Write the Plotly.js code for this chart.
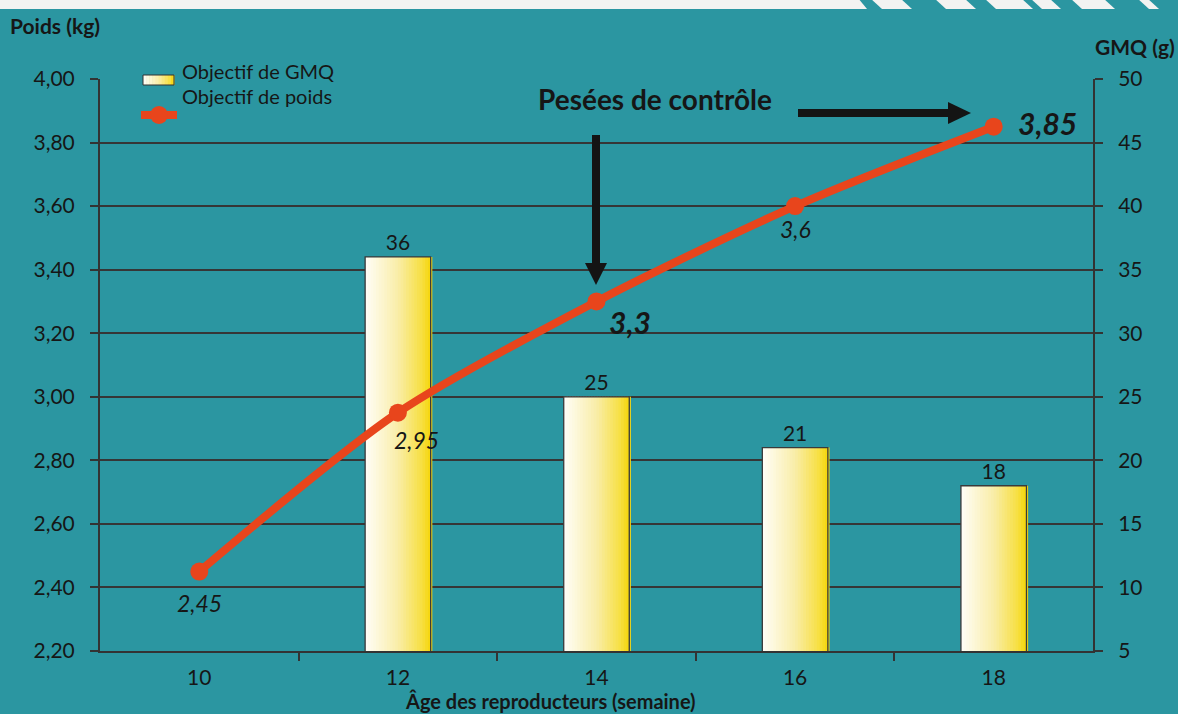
<!DOCTYPE html>
<html>
<head>
<meta charset="utf-8">
<script src="https://cdn.plot.ly/plotly-3.0.1.min.js"></script>
<style>
  html, body { margin: 0; padding: 0; background: #2b96a1; }
  #chart { width: 1178px; height: 714px; }
</style>
</head>
<body>
<div id="chart"></div>
<script>
// ---- Data ----
const weeks = [10, 12, 14, 16, 18];
const poids = [2.45, 2.95, 3.3, 3.6, 3.85];
const poidsLabels = ["2,45", "2,95", "3,3", "3,6", "3,85"];
const gmqWeeks = [12, 14, 16, 18];
const gmq = [36, 25, 21, 18];
const xTickVals = [10, 12, 14, 16, 18];
const xTickText = ["10", "12", "14", "16", "18"];
const kgTickVals = [2.2, 2.4, 2.6, 2.8, 3.0, 3.2, 3.4, 3.6, 3.8, 4.0];
const kgTickText = ["2,20", "2,40", "2,60", "2,80", "3,00", "3,20", "3,40", "3,60", "3,80", "4,00"];
const gTickVals = [5, 10, 15, 20, 25, 30, 35, 40, 45, 50];
const legendNames = ["Objectif de GMQ", "Objectif de poids"];

// ---- Style ----
const TEAL = "#2b96a1";
const ORANGE = "#e8451c";
const DARK = "#161616";
const GRID = "#363636";
const FONT = "Lato, 'Open Sans', sans-serif";
const M = {l: 100, r: 85, t: 79, b: 63};
const PW = 1178 - M.l - M.r, PH = 714 - M.t - M.b;
const px = x => (x - M.l) / PW;
const py = y => (714 - M.b - y) / PH;

function grad(t) {
  const stops = [[0, [255, 254, 248]], [0.5, [249, 237, 168]], [0.85, [247, 224, 70]], [1, [246, 214, 10]]];
  for (let i = 0; i < stops.length - 1; i++) {
    const [t0, c0] = stops[i], [t1, c1] = stops[i + 1];
    if (t <= t1) {
      const f = (t - t0) / (t1 - t0);
      const c = c0.map((v, k) => Math.round(v + (c1[k] - v) * f));
      return `rgb(${c[0]},${c[1]},${c[2]})`;
    }
  }
  return "rgb(246,214,10)";
}

const traces = [];
const BW = 0.66, NS = 24, sw = BW / NS;
for (let i = 0; i < NS; i++) {
  traces.push({
    type: "bar", x: gmqWeeks, y: gmq, yaxis: "y",
    width: sw * 1.6, offset: -BW / 2 + i * sw,
    marker: {color: grad((i + 0.5) / NS), line: {width: 0}},
    showlegend: false, hoverinfo: "skip"
  });
}
traces.push({
  type: "bar", x: gmqWeeks, y: gmq, yaxis: "y",
  width: BW, offset: -BW / 2,
  marker: {color: "rgba(0,0,0,0)", line: {color: "#3a3a3a", width: 1.3}},
  text: gmq.map(String), textposition: "outside", cliponaxis: false,
  textfont: {family: FONT, size: 21, color: DARK},
  name: legendNames[0], showlegend: false
});
traces.push({
  type: "scatter", mode: "lines+markers", x: weeks, y: poids, yaxis: "y2",
  line: {color: ORANGE, width: 8, shape: "spline", smoothing: 0.8},
  marker: {color: ORANGE, size: 18},
  name: legendNames[1], showlegend: false, cliponaxis: false
});

// ---- Shapes ----
const shapes = [];
const yTop = py(-2), yBot = py(9);
shapes.push({type: "path", xref: "paper", yref: "paper",
  path: `M ${px(-5)} ${yTop} L ${px(858)} ${yTop} L ${px(867)} ${yBot} L ${px(-5)} ${yBot} Z`,
  fillcolor: "#f3f3f1", line: {width: 0}, layer: "above"});
[[873, 903], [937, 967], [987, 1024], [1033, 1052], [1073, 1106], [1140, 1150]].forEach(([a, b]) => {
  shapes.push({type: "path", xref: "paper", yref: "paper",
    path: `M ${px(a - 3)} ${yTop} L ${px(b - 3)} ${yTop} L ${px(b + 9)} ${yBot} L ${px(a + 9)} ${yBot} Z`,
    fillcolor: "#f3f3f1", line: {width: 0}, layer: "above"});
});
const LS = 10;
for (let i = 0; i < LS; i++) {
  const x0 = 143 + i * 31 / LS, x1 = 143 + (i + 1) * 31 / LS + 0.6;
  shapes.push({type: "rect", xref: "paper", yref: "paper", x0: px(x0), x1: px(x1), y0: py(75), y1: py(85),
    fillcolor: grad((i + 0.5) / LS), line: {width: 0}, layer: "above"});
}
shapes.push({type: "rect", xref: "paper", yref: "paper", x0: px(143), x1: px(174), y0: py(75), y1: py(85),
  fillcolor: "rgba(0,0,0,0)", line: {color: "#333", width: 1}, layer: "above"});
shapes.push({type: "line", xref: "paper", yref: "paper", x0: px(141), x1: px(177), y0: py(115), y1: py(115),
  line: {color: ORANGE, width: 8}, layer: "above"});
shapes.push({type: "circle", xref: "paper", yref: "paper", x0: px(150), x1: px(168), y0: py(106), y1: py(124),
  fillcolor: ORANGE, line: {width: 0}, layer: "above"});
shapes.push({type: "line", xref: "paper", yref: "paper", x0: px(596), x1: px(596), y0: py(135), y1: py(266),
  line: {color: "#141414", width: 8}, layer: "above"});
shapes.push({type: "path", xref: "paper", yref: "paper",
  path: `M ${px(585)} ${py(263)} L ${px(607)} ${py(263)} L ${px(596)} ${py(285)} Z`,
  fillcolor: "#141414", line: {width: 0}, layer: "above"});
shapes.push({type: "line", xref: "paper", yref: "paper", x0: px(798), x1: px(951), y0: py(113), y1: py(113),
  line: {color: "#141414", width: 8}, layer: "above"});
shapes.push({type: "path", xref: "paper", yref: "paper",
  path: `M ${px(948)} ${py(102)} L ${px(948)} ${py(124)} L ${px(971)} ${py(113)} Z`,
  fillcolor: "#141414", line: {width: 0}, layer: "above"});

// ---- Annotations ----
const annotations = [];
const lblShift = [[0, -31, 23, false], [19, -27, 23, false], [33, -21, 30, true], [0, -23, 23, false], [54, 4, 30, true]];
weeks.forEach((w, i) => {
  const [xs, ys, sz, bold] = lblShift[i];
  annotations.push({x: w, y: poids[i], xref: "x", yref: "y2", showarrow: false,
    text: bold ? `<b><i>${poidsLabels[i]}</i></b>` : `<i>${poidsLabels[i]}</i>`,
    xshift: xs, yshift: ys, font: {family: FONT, size: sz, color: DARK}});
});
annotations.push({x: px(8), y: py(25), xref: "paper", yref: "paper", xanchor: "left", yanchor: "middle",
  text: "<b>Poids (kg)</b>", showarrow: false, font: {family: FONT, size: 21, color: DARK}});
annotations.push({x: px(1177), y: py(47), xref: "paper", yref: "paper", xanchor: "right", yanchor: "middle",
  text: "<b>GMQ (g)</b>", showarrow: false, font: {family: FONT, size: 21, color: DARK}});
annotations.push({x: px(550), y: py(714), xref: "paper", yref: "paper", xanchor: "center", yanchor: "bottom",
  text: "<b>Âge des reproducteurs (semaine)</b>", showarrow: false, borderpad: 0,
  font: {family: FONT, size: 20, color: DARK}});
annotations.push({x: px(655), y: py(99), xref: "paper", yref: "paper", xanchor: "center", yanchor: "middle",
  text: "<b>Pesées de contrôle</b>", showarrow: false, font: {family: FONT, size: 28, color: DARK}});
annotations.push({x: px(180), y: py(71), xref: "paper", yref: "paper", xanchor: "left", yanchor: "middle",
  text: legendNames[0], showarrow: false, font: {family: FONT, size: 20, color: DARK}});
annotations.push({x: px(180), y: py(96), xref: "paper", yref: "paper", xanchor: "left", yanchor: "middle",
  text: legendNames[1], showarrow: false, font: {family: FONT, size: 20, color: DARK}});

const layout = {
  width: 1178, height: 714,
  margin: M,
  paper_bgcolor: TEAL, plot_bgcolor: TEAL,
  font: {family: FONT, color: DARK},
  barmode: "overlay", showlegend: false,
  xaxis: {
    range: [9, 19], tickvals: xTickVals, ticktext: xTickText, ticks: "",
    tickfont: {size: 21, color: DARK}, ticklabelstandoff: 7,
    showgrid: false, zeroline: false, showline: true, linecolor: "#333", linewidth: 2,
    minor: {tickvals: [11, 13, 15, 17], ticks: "outside", ticklen: 8, tickcolor: "#333", tickwidth: 2, showgrid: false},
    fixedrange: true
  },
  yaxis: {
    range: [5, 50], side: "right", tickvals: gTickVals,
    ticks: "outside", ticklen: 8, tickcolor: "#333", tickwidth: 2, ticklabelstandoff: 11,
    tickfont: {size: 21, color: DARK},
    showgrid: true, gridcolor: GRID, gridwidth: 2, zeroline: false,
    showline: true, linecolor: "#333", linewidth: 2, fixedrange: true
  },
  yaxis2: {
    range: [2.2, 4.0], side: "left", overlaying: "y", tickvals: kgTickVals, ticktext: kgTickText,
    ticks: "outside", ticklen: 8, tickcolor: "#333", tickwidth: 2, ticklabelstandoff: 11,
    tickfont: {size: 21, color: DARK},
    showgrid: false, zeroline: false, showline: true, linecolor: "#333", linewidth: 2, fixedrange: true
  },
  shapes: shapes,
  annotations: annotations
};

Plotly.newPlot("chart", traces, layout, {displayModeBar: false, staticPlot: true});
</script>
</body>
</html>
